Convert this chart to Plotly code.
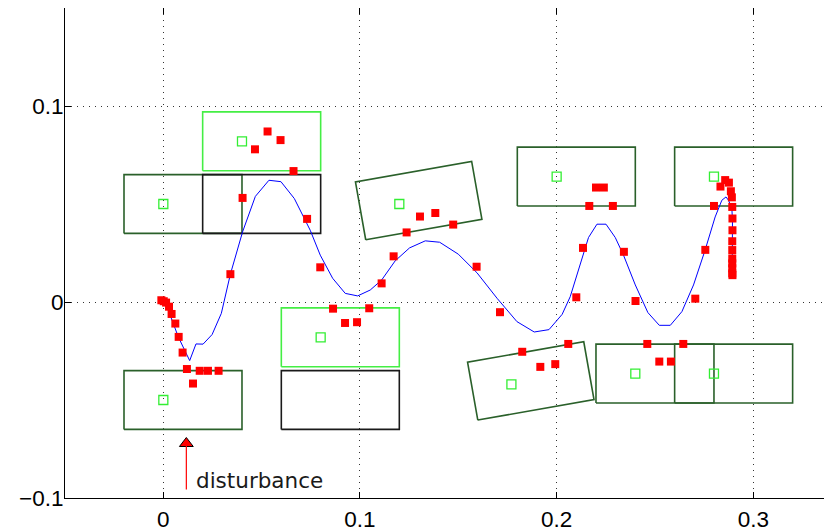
import math
import plotly.graph_objects as go

# ---------------- data ----------------
# reference path (blue line)
path_x = [0.000, 0.0025, 0.0076, 0.0134, 0.0166, 0.0202, 0.0248, 0.0295, 0.0341, 0.0403,
          0.0468, 0.0537, 0.0598, 0.0666, 0.0747, 0.0798, 0.0861, 0.0925, 0.0988, 0.1052,
          0.1110, 0.1179, 0.1252, 0.1332, 0.1405, 0.1500, 0.1595, 0.1697, 0.1798, 0.1886,
          0.1961, 0.2028, 0.2069, 0.2120, 0.2162, 0.2205, 0.2251, 0.2298, 0.2340, 0.2400,
          0.2464, 0.2522, 0.2578, 0.2637, 0.2696, 0.2755, 0.2806, 0.2840, 0.2861, 0.2874,
          0.2891, 0.2894, 0.2893]
path_y = [0.000, -0.0041, -0.0178, -0.0299, -0.0214, -0.0215, -0.0166, -0.0058, 0.0142, 0.0358,
          0.0539, 0.0621, 0.0614, 0.0528, 0.0366, 0.0239, 0.0121, 0.0044, 0.0031, 0.0061,
          0.0112, 0.0210, 0.0276, 0.0312, 0.0305, 0.0244, 0.0149, 0.0019, -0.0100, -0.0153,
          -0.0141, -0.0063, 0.0027, 0.0197, 0.0329, 0.0397, 0.0397, 0.0329, 0.0239, 0.0087,
          -0.0054, -0.0119, -0.0119, -0.0049, 0.0087, 0.0265, 0.0434, 0.0519, 0.0536, 0.0519,
          0.0477, 0.0417, 0.0204]

# measured samples (red squares)
meas_x = [-0.0010, 0.0002, 0.0014, 0.0029, 0.0042, 0.0061, 0.0078, 0.0098, 0.0120, 0.0151,
          0.0185, 0.0227, 0.0281, 0.0341, 0.0403, 0.0466, 0.0530, 0.0596, 0.0662, 0.0731,
          0.0798, 0.0863, 0.0924, 0.0985, 0.1047, 0.1110, 0.1171, 0.1237, 0.1305, 0.1383,
          0.1474, 0.1593, 0.1712, 0.1825, 0.1917, 0.1993, 0.2059, 0.2100, 0.2134, 0.2166,
          0.2200, 0.2240, 0.2286, 0.2342, 0.2401, 0.2461, 0.2522, 0.2581, 0.2644, 0.2705,
          0.2756, 0.2800, 0.2833, 0.2857, 0.2876, 0.2886, 0.2891, 0.2893, 0.2894, 0.2894,
          0.2893, 0.2893, 0.2893, 0.2893, 0.2893, 0.2893, 0.2894]
meas_y = [0.0009, 0.0004, -0.0003, -0.0024, -0.0061, -0.0110, -0.0178, -0.0258, -0.0342, -0.0416,
          -0.0351, -0.0351, -0.0351, 0.0142, 0.0531, 0.0779, 0.0870, 0.0826, 0.0668, 0.0424,
          0.0177, -0.0034, -0.0107, -0.0103, -0.0032, 0.0095, 0.0233, 0.0355, 0.0436, 0.0454,
          0.0395, 0.0180, -0.0052, -0.0254, -0.0331, -0.0317, -0.0214, 0.0024, 0.0276, 0.0490,
          0.0584, 0.0584, 0.0490, 0.0256, 0.0005, -0.0214, -0.0304, -0.0304, -0.0214, 0.0017,
          0.0266, 0.0490, 0.0589, 0.0622, 0.0609, 0.0565, 0.0534, 0.0485, 0.0426, 0.0366,
          0.0310, 0.0265, 0.0222, 0.0197, 0.0172, 0.0146, 0.0137]

# robot poses (boxes)
pose_x = [0.0, 0.0, 0.04, 0.04, 0.08, 0.08, 0.12, 0.177, 0.20, 0.24, 0.28, 0.28]
pose_y = [-0.05, 0.05, 0.05, 0.082, -0.018, -0.05, 0.05, -0.042, 0.064, -0.0365, -0.0365, 0.064]
pose_theta = [0, 0, 0, 0, 0, 0, 10, 10, 0, 0, 0, 0]
pose_kind = ["dark", "dark", "black", "light", "light", "black",
             "dark", "dark", "dark", "dark", "dark", "dark"]
pose_marked = [True, True, False, True, True, False, True, True, True, True, True, True]

x_ticks = [0, 0.1, 0.2, 0.3]
x_tick_text = ["0", "0.1", "0.2", "0.3"]
y_ticks = [-0.1, 0, 0.1]
y_tick_text = ["\u22120.1", "0", "0.1"]

disturb_x = 0.0117
disturb_y0 = -0.0957
disturb_y1 = -0.0725
disturb_label = "disturbance"

# ---------------- figure ----------------
BOX_U = [-0.02, 0.04, 0.04, -0.02, -0.02]
BOX_V = [-0.015, -0.015, 0.015, 0.015, -0.015]
kind_color = {"dark": "#2a602a", "black": "#1a1a1a", "light": "#44ee44"}

fig = go.Figure()

for px, py, th, kind in zip(pose_x, pose_y, pose_theta, pose_kind):
    t = math.radians(th)
    c, s = math.cos(t), math.sin(t)
    xs = [px + u * c - v * s for u, v in zip(BOX_U, BOX_V)]
    ys = [py + u * s + v * c for u, v in zip(BOX_U, BOX_V)]
    fig.add_trace(go.Scatter(x=xs, y=ys, mode="lines",
                             line=dict(color=kind_color[kind], width=1.6),
                             hoverinfo="skip", showlegend=False))

fig.add_trace(go.Scatter(x=path_x, y=path_y, mode="lines",
                         line=dict(color="#0000ff", width=1), showlegend=False))

fig.add_trace(go.Scatter(
    x=[x for x, m in zip(pose_x, pose_marked) if m],
    y=[y for y, m in zip(pose_y, pose_marked) if m],
    mode="markers",
    marker=dict(symbol="square-open", size=9, color="#33ee33", line=dict(width=1.3)),
    showlegend=False))

fig.add_trace(go.Scatter(x=meas_x, y=meas_y, mode="markers",
                         marker=dict(symbol="square", size=8, color="#ff0000",
                                     line=dict(width=0)),
                         showlegend=False))

# disturbance arrow
fig.add_shape(type="line", x0=disturb_x, x1=disturb_x, y0=disturb_y0, y1=disturb_y1,
              line=dict(color="#ff0000", width=1.2))
fig.add_trace(go.Scatter(x=[disturb_x], y=[disturb_y1 + 0.0003], mode="markers",
                         marker=dict(symbol="triangle-up", size=12, color="#ff0000",
                                     line=dict(color="#000000", width=1)),
                         showlegend=False, hoverinfo="skip"))
fig.add_annotation(x=disturb_x + 0.004, y=disturb_y0 + 0.0045, text=disturb_label,
                   showarrow=False, xanchor="left", yanchor="middle",
                   font=dict(family="DejaVu Sans", size=21.5, color="#1a1a1a"))

axis_common = dict(showline=True, linecolor="#000000", linewidth=1, mirror="ticks",
                   ticks="inside", ticklen=6, tickcolor="#000000", tickwidth=1,
                   showgrid=True, gridcolor="#333333", gridwidth=1, griddash="1px,5px",
                   zeroline=False, automargin=False,
                   tickfont=dict(family="Liberation Sans", size=22.5, color="#000000"))

fig.update_xaxes(range=[-0.05, 0.339], tickvals=x_ticks, ticktext=x_tick_text,
                 ticklabelstandoff=1, **axis_common)
fig.update_yaxes(range=[-0.1, 0.15], tickvals=y_ticks, ticktext=y_tick_text,
                 ticklabelstandoff=-4, **axis_common)

# the page body adds an 8px offset, so the figure is sized to fill the rest of the window
fig.update_layout(width=824, height=524,
                  margin=dict(l=57, r=2, t=0, b=34),
                  plot_bgcolor="#ffffff", paper_bgcolor="#ffffff",
                  showlegend=False)

fig.write_html("out.html")
